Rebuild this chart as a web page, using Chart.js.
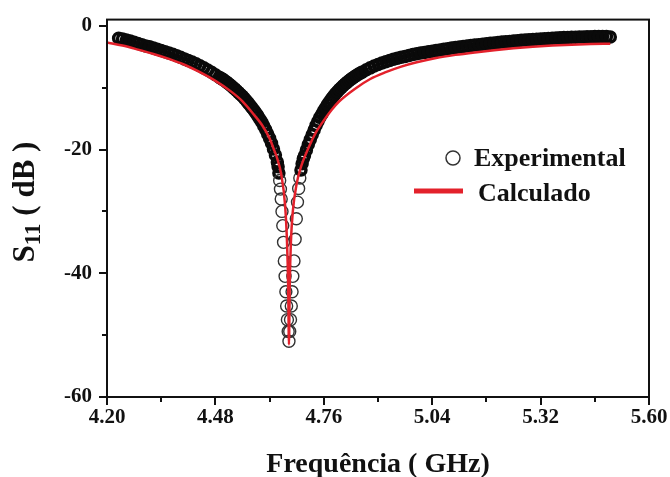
<!DOCTYPE html>
<html>
<head>
<meta charset="utf-8">
<script src="https://cdn.jsdelivr.net/npm/chart.js"></script>
<style>
  body { margin: 0; background: #fff; }
  #wrap { width: 670px; height: 477px; }
</style>
</head>
<body>
<div id="wrap"><canvas id="myChart" width="670" height="477"></canvas></div>
<script>
let expFreq = [
  4.23, 4.24, 4.25, 4.26, 4.27, 4.28, 4.29, 4.30, 4.31, 4.32,
  4.33, 4.34, 4.35, 4.36, 4.37, 4.38, 4.39, 4.40, 4.41, 4.42,
  4.43, 4.44, 4.45, 4.46, 4.47, 4.48, 4.49,
  4.495, 4.50, 4.505, 4.51, 4.515, 4.52, 4.525, 4.53, 4.535, 4.54,
  4.545, 4.55, 4.555, 4.56, 4.565, 4.57, 4.575, 4.58, 4.585, 4.59,
  4.595, 4.60, 4.605, 4.61, 4.615, 4.62, 4.625, 4.63, 4.635, 4.64,
  4.642, 4.644, 4.646, 4.648, 4.650, 4.652, 4.654, 4.656, 4.658, 4.660,
  4.662, 4.664, 4.666, 4.668, 4.670,
  4.672, 4.674, 4.676, 4.678, 4.680, 4.683, 4.686, 4.689, 4.692, 4.695,
  4.698, 4.701, 4.704, 4.707,
  4.71, 4.715, 4.72, 4.725, 4.73, 4.735, 4.74, 4.745, 4.75, 4.755,
  4.76, 4.765, 4.77, 4.775, 4.78, 4.785, 4.79, 4.795, 4.80, 4.805,
  4.81, 4.815, 4.82, 4.825, 4.83, 4.835, 4.84, 4.845, 4.85, 4.855,
  4.86, 4.87, 4.88, 4.89, 4.90,
  4.91, 4.92, 4.93, 4.94, 4.95, 4.96, 4.97, 4.98, 4.99, 5.00,
  5.01, 5.02, 5.03, 5.04, 5.05, 5.06, 5.07, 5.08, 5.09, 5.10,
  5.11, 5.12, 5.13, 5.14, 5.15, 5.16, 5.17, 5.18, 5.19, 5.20,
  5.21, 5.22, 5.23, 5.24, 5.25, 5.26, 5.27, 5.28, 5.29, 5.30,
  5.31, 5.32, 5.33, 5.34, 5.35, 5.36, 5.37, 5.38, 5.39, 5.40,
  5.41, 5.42, 5.43, 5.44, 5.45, 5.46, 5.47, 5.48, 5.49, 5.50,
];
let expS11 = [
  -2.0, -2.15, -2.3, -2.45, -2.65, -2.85, -3.05, -3.25, -3.4, -3.6,
  -3.8, -4.0, -4.2, -4.4, -4.6, -4.85, -5.1, -5.35, -5.6, -5.85,
  -6.15, -6.45, -6.8, -7.15, -7.5, -7.9, -8.3,
  -8.5, -8.7, -8.92, -9.15, -9.4, -9.65, -9.92, -10.2, -10.5, -10.8,
  -11.1, -11.4, -11.75, -12.1, -12.5, -12.9, -13.3, -13.7, -14.15, -14.6,
  -15.1, -15.6, -16.2, -16.8, -17.5, -18.2, -19.0, -19.9, -20.9, -22.0,
  -22.8, -23.8, -25.0, -26.4, -28.0, -30.0, -32.3, -35.0, -38.0, -40.5,
  -43.0, -45.3, -47.5, -49.4, -51.0,
  -49.4, -47.5, -45.3, -43.0, -40.5, -38.0, -34.5, -31.2, -28.5, -26.3,
  -24.6, -23.3, -22.3, -21.5,
  -21.0, -20.1, -19.2, -18.4, -17.6, -16.85, -16.1, -15.45, -14.8, -14.25,
  -13.7, -13.2, -12.7, -12.25, -11.8, -11.4, -11.0, -10.65, -10.3, -10.0,
  -9.7, -9.42, -9.15, -8.9, -8.65, -8.42, -8.2, -8.0, -7.8, -7.62,
  -7.45, -7.1, -6.8, -6.5, -6.25,
  -6.0, -5.8, -5.6, -5.4, -5.25, -5.1, -4.95, -4.8, -4.65, -4.5,
  -4.4, -4.3, -4.2, -4.1, -4.0, -3.9, -3.8, -3.7, -3.6, -3.52,
  -3.44, -3.36, -3.28, -3.2, -3.12, -3.05, -2.98, -2.91, -2.84, -2.77,
  -2.7, -2.64, -2.58, -2.52, -2.46, -2.4, -2.35, -2.3, -2.25, -2.2,
  -2.16, -2.12, -2.08, -2.04, -2.0, -1.97, -1.94, -1.91, -1.88, -1.86,
  -1.84, -1.82, -1.8, -1.78, -1.76, -1.75, -1.74, -1.74, -1.75, -1.8,
];

// calculated curve
let calcFreq = [
  4.20, 4.24, 4.28, 4.32, 4.36, 4.40, 4.44, 4.48, 4.52, 4.55,
  4.58, 4.60, 4.62, 4.63, 4.64, 4.65, 4.66, 4.665, 4.668, 4.670,
  4.672, 4.675, 4.68, 4.69, 4.70, 4.72, 4.74, 4.76, 4.78, 4.80,
  4.84, 4.88, 4.92, 4.96, 5.00, 5.05, 5.10, 5.15, 5.20, 5.25,
  5.30, 5.35, 5.40, 5.45, 5.50,
];
let calcS11 = [
  -2.7, -3.2, -3.85, -4.55, -5.35, -6.3, -7.5, -8.9, -10.6, -12.2,
  -14.4, -16.0, -18.2, -19.8, -21.5, -24.0, -29.0, -35.0, -42.0, -51.5,
  -42.0, -35.0, -30.0, -25.5, -23.0, -19.8, -17.2, -15.3, -13.6, -12.2,
  -10.2, -8.6, -7.5, -6.6, -5.9, -5.2, -4.7, -4.3, -3.95, -3.65,
  -3.4, -3.2, -3.05, -2.95, -2.9,
];

let xTicks = [4.20, 4.48, 4.76, 5.04, 5.32, 5.60];
let xMinor = [4.34, 4.62, 4.90, 5.18, 5.46];
let yTicks = [-60, -40, -20, 0];
let yMinor = [-50, -30, -10];

const FONT = "'Liberation Serif', 'Times New Roman', serif";
const INK = "#111";

function toPoints(xs, ys) {
  let pts = [];
  for (let i = 0; i < xs.length; i++) {
    pts.push({ x: xs[i], y: ys[i] });
  }
  return pts;
}

// frame, minor ticks, titles and the legend inside the plot
const decorations = {
  id: "decorations",
  afterDraw(chart) {
    const ctx = chart.ctx;
    const a = chart.chartArea;
    const xs = chart.scales.x;
    const ys = chart.scales.y;
    ctx.save();
    ctx.strokeStyle = INK;
    ctx.lineWidth = 2;
    ctx.strokeRect(a.left, a.top, a.right - a.left, a.bottom - a.top);

    ctx.beginPath();
    for (let i = 0; i < xMinor.length; i++) {
      let px = Math.round(xs.getPixelForValue(xMinor[i]));
      ctx.moveTo(px, a.bottom);
      ctx.lineTo(px, a.bottom + 5);
    }
    for (let i = 0; i < yMinor.length; i++) {
      let py = Math.round(ys.getPixelForValue(yMinor[i]));
      ctx.moveTo(a.left - 5, py);
      ctx.lineTo(a.left, py);
    }
    ctx.stroke();

    ctx.fillStyle = INK;
    // x title
    ctx.font = "bold 28px " + FONT;
    ctx.textAlign = "center";
    ctx.textBaseline = "alphabetic";
    ctx.fillText("Frequência ( GHz)", (a.left + a.right) / 2, 472);

    // y title with subscript
    ctx.save();
    ctx.translate(34, 202);
    ctx.rotate(-Math.PI / 2);
    ctx.textAlign = "left";
    const big = "bold 31px " + FONT;
    const small = "bold 23px " + FONT;
    ctx.font = big;
    let wS = ctx.measureText("S").width;
    let wRest = ctx.measureText(" ( dB )").width;
    ctx.font = small;
    let wSub = ctx.measureText("11").width;
    let x0 = -(wS + wSub + wRest) / 2;
    ctx.font = big;
    ctx.fillText("S", x0, 0);
    ctx.font = small;
    ctx.fillText("11", x0 + wS, 6);
    ctx.font = big;
    ctx.fillText(" ( dB )", x0 + wS + wSub, 0);
    ctx.restore();

    // legend
    ctx.strokeStyle = "#333";
    ctx.lineWidth = 1.5;
    ctx.beginPath();
    ctx.arc(453, 158, 7, 0, Math.PI * 2);
    ctx.stroke();
    ctx.strokeStyle = "#e3212b";
    ctx.lineWidth = 5;
    ctx.beginPath();
    ctx.moveTo(414, 191);
    ctx.lineTo(463, 191);
    ctx.stroke();
    ctx.font = "bold 26px " + FONT;
    ctx.textAlign = "left";
    ctx.fillText("Experimental", 474, 166);
    ctx.fillText("Calculado", 478, 201);
    ctx.restore();
  },
};

function showChart() {
  const ctx = document.getElementById("myChart").getContext("2d");

  new Chart(ctx, {
    type: "scatter",
    data: {
      datasets: [
        {
          label: "Experimental",
          data: toPoints(expFreq, expS11),
          showLine: false,
          pointStyle: "circle",
          pointRadius: (c) => (c.raw && c.raw.y < -24 ? 6 : 5),
          // thin outlines where the circles stand apart in the dip
          pointBorderWidth: (c) => (c.raw && c.raw.y < -24 ? 1.4 : 3.5),
          pointBorderColor: (c) => (c.raw && c.raw.y < -24 ? "#333" : "#0a0a0a"),
          pointBackgroundColor: "rgba(0,0,0,0)",
          order: 2,
        },
        {
          label: "Calculado",
          data: toPoints(calcFreq, calcS11),
          showLine: true,
          pointRadius: 0,
          borderColor: "#e3212b",
          borderWidth: 2.5,
          cubicInterpolationMode: "monotone",
          fill: false,
          order: 1,
        },
      ],
    },
    options: {
      responsive: false,
      devicePixelRatio: 1,
      animation: false,
      layout: { padding: { top: 14, right: 21, left: 0, bottom: 0 } },
      plugins: {
        legend: { display: false },
        tooltip: { enabled: false },
      },
      scales: {
        x: {
          type: "linear",
          min: 4.2,
          max: 5.6,
          afterBuildTicks: (axis) => {
            axis.ticks = xTicks.map((v) => ({ value: v }));
          },
          afterFit: (axis) => {
            axis.height = 80;
          },
          ticks: {
            color: INK,
            font: { family: FONT, size: 21, weight: "bold" },
            padding: 0,
            maxRotation: 0,
            callback: (v) => Number(v).toFixed(2),
          },
          grid: {
            drawOnChartArea: false,
            drawTicks: true,
            tickLength: 8,
            color: INK,
            lineWidth: 2,
          },
          border: { display: true, color: INK, width: 2 },
        },
        y: {
          type: "linear",
          min: -60,
          max: 1,
          afterBuildTicks: (axis) => {
            axis.ticks = yTicks.map((v) => ({ value: v }));
          },
          afterFit: (axis) => {
            axis.width = 107;
          },
          ticks: {
            color: INK,
            font: { family: FONT, size: 21, weight: "bold" },
            padding: 7,
            callback: (v) => String(v),
          },
          grid: {
            drawOnChartArea: false,
            drawTicks: true,
            tickLength: 8,
            color: INK,
            lineWidth: 2,
          },
          border: { display: true, color: INK, width: 2 },
        },
      },
    },
    plugins: [decorations],
  });
}

showChart();
</script>
</body>
</html>
